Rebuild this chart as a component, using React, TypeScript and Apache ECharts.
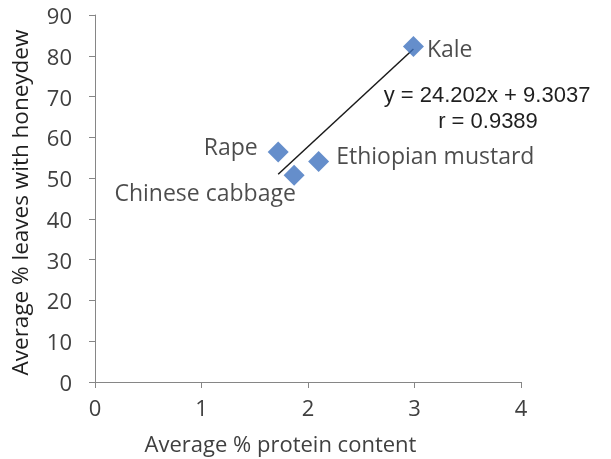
import React, { useEffect, useRef } from "react";
import * as echarts from "echarts";

const names = ["Rape", "Chinese cabbage", "Ethiopian mustard", "Kale"];
const proteinX = [1.72, 1.87, 2.1, 2.99];
const honeydewY = [56.4, 50.7, 54.1, 82.3];
const xTicks = [0, 1, 2, 3, 4];
const yTicks = [0, 10, 20, 30, 40, 50, 60, 70, 80, 90];
const slope = 24.202;
const intercept = 9.3037;
const eqText = "y = 24.202x + 9.3037";
const rText = "r = 0.9389";

const FONT = "'Open Sans', sans-serif";
const EQFONT = "'Liberation Sans', Arial, sans-serif";
const TXT = "#1f1f1f";
const AX = "#404040";

export default function App() {
  const ref = useRef<HTMLDivElement>(null);
  useEffect(() => {
    if (!ref.current) return;
    const chart = echarts.init(ref.current, undefined, { renderer: "svg" });
    const xmin = Math.min(...proteinX);
    const xmax = Math.max(...proteinX);
    const labelCfg: any[] = [
      { position: "left", distance: 10, offset: [0, -6] },
      { position: "inside", offset: [-89, 17] },
      { position: "right", distance: 7, offset: [0, -6] },
      { position: "right", distance: 3, offset: [0, 2] },
    ];
    chart.setOption({
      animation: false,
      textStyle: { fontFamily: FONT },
      grid: { left: 95, right: 90, top: 15, bottom: 76 },
      xAxis: {
        type: "value",
        min: xTicks[0],
        max: xTicks[xTicks.length - 1],
        interval: 1,
        splitLine: { show: false },
        axisLine: { lineStyle: { color: "#868686", width: 1 } },
        axisTick: { show: true, length: 6, lineStyle: { color: "#868686" } },
        axisLabel: { fontSize: 22, color: AX, margin: 14, fontFamily: FONT },
        name: "Average % protein content",
        nameLocation: "middle",
        nameGap: 50,
        nameTextStyle: { fontSize: 22, color: AX, fontFamily: FONT, padding: [0, 55, 0, 0] },
      },
      yAxis: {
        type: "value",
        min: yTicks[0],
        max: yTicks[yTicks.length - 1],
        interval: 10,
        splitLine: { show: false },
        axisLine: { show: true, lineStyle: { color: "#868686", width: 1 } },
        axisTick: { show: true, length: 6, lineStyle: { color: "#868686" } },
        axisLabel: { fontSize: 22, color: AX, margin: 23, fontFamily: FONT },
        name: "Average % leaves with honeydew",
        nameLocation: "middle",
        nameGap: 64,
        nameTextStyle: { fontSize: 22.5, color: TXT, fontFamily: FONT, padding: [0, 8, 0, 0] },
      },
      series: [
        {
          type: "line",
          data: [
            [xmin, slope * xmin + intercept],
            [xmax, slope * xmax + intercept],
          ],
          symbol: "none",
          lineStyle: { color: "#1a1a1a", width: 1.5 },
          z: 1,
        },
        {
          type: "scatter",
          symbol: "diamond",
          symbolSize: [21, 21],
          itemStyle: { color: "#3F72BE" },
          z: 2,
          data: names.map((n, i) => ({
            value: [proteinX[i], honeydewY[i]],
            name: n,
            label: {
              show: true,
              formatter: n,
              fontSize: 23,
              color: TXT,
              fontFamily: FONT,
              ...labelCfg[i],
            },
          })),
        },
      ],
      graphic: [
        {
          type: "text",
          x: 487,
          y: 94.5,
          style: {
            text: eqText,
            fontSize: 22,
            lineHeight: 22,
            fontFamily: EQFONT,
            fill: TXT,
            align: "center",
            verticalAlign: "middle",
          },
        },
        {
          type: "text",
          x: 488,
          y: 120.5,
          style: {
            text: rText,
            fontSize: 22,
            lineHeight: 22,
            fontFamily: EQFONT,
            fill: TXT,
            align: "center",
            verticalAlign: "middle",
          },
        },
      ],
    });
    return () => chart.dispose();
  }, []);
  return <div ref={ref} style={{ position: "fixed", left: 0, top: 0, width: 611, height: 459 }} />;
}
